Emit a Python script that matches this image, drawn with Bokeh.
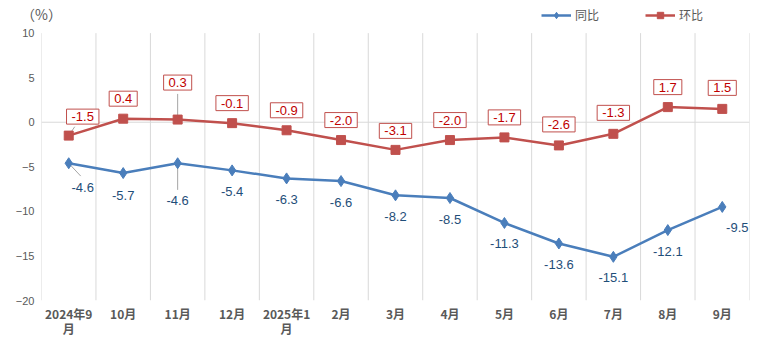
from bokeh.plotting import figure
from bokeh.models import (ColumnDataSource, FixedTicker, Legend, LegendItem, LinearAxis)
from bokeh.core.properties import value
from bokeh.embed import file_html
from bokeh.resources import INLINE

# ---- data ----
months = ["2024年9月", "10月", "11月", "12月", "2025年1月", "2月", "3月",
          "4月", "5月", "6月", "7月", "8月", "9月"]
yoy = [-4.6, -5.7, -4.6, -5.4, -6.3, -6.6, -8.2, -8.5, -11.3, -13.6, -15.1, -12.1, -9.5]
mom = [-1.5, 0.4, 0.3, -0.1, -0.9, -2.0, -3.1, -2.0, -1.7, -2.6, -1.3, 1.7, 1.5]
y_ticks = [-20, -15, -10, -5, 0, 5, 10]
series_names = ["同比", "环比"]
unit_text = "（%）"

# ---- label placement (screen px) ----
red_dx = [14, 0, 0, 0, 0, 0, 0, 0, 0, 0, 0, 0, 0]
red_up = [19, 20, 37, 20, 20, 20, 19, 20, 20, 21, 21, 20, 21]
blue_dx = [14, 0, 0, 0, 0, 0, 0, 0, 0, 0, 0, 0, 15]
blue_down = [24, 22, 37, 21, 21, 21, 21, 21, 21, 21, 21, 21, 21]

BLUE = "#4A7EBB"
RED = "#C0504D"
GRAY_TXT = "#595959"
GRID = "#D9D9D9"

W, H = 760, 339
BL, BR = 41, 11
FW = W - BL - BR
FH_EST = 300
n = len(months)
xs = list(range(n))
y_lo, y_hi_axis = y_ticks[0], y_ticks[-1]
px_x = FW / n
px_y = 9.033
y_top = y_lo + FH_EST / px_y

p = figure(width=W, height=H, output_backend="svg", toolbar_location=None, title=None,
           x_range=(-0.5, n - 0.5), y_range=(y_lo, y_top),
           min_border_left=BL, min_border_right=BR, min_border_top=0, min_border_bottom=0)
p.outline_line_color = None
p.background_fill_color = "white"
p.border_fill_color = "white"
p.xgrid.visible = False
p.ygrid.visible = False

# vertical grid at category boundaries, and the zero line
bounds = [i - 0.5 for i in range(n + 1)]
p.segment(x0=bounds, y0=[y_lo] * len(bounds), x1=bounds, y1=[y_hi_axis] * len(bounds),
          line_color=GRID, line_width=1)
p.segment(x0=[bounds[0]], y0=[0], x1=[bounds[-1]], y1=[0], line_color=GRID, line_width=1)

# x axes (two rows of labels)
first_line = [m[:-1] if len(m) > 4 else m for m in months]
wrapped = [i for i, m in enumerate(months) if len(m) > 4]
xa = p.xaxis[0]
xa.ticker = FixedTicker(ticks=xs)
xa.major_label_overrides = {i: t for i, t in enumerate(first_line)}
xa.axis_line_color = None
xa.major_tick_line_color = None
xa.minor_tick_line_color = None
xa.major_tick_out = 0
xa.major_tick_in = 0
xa.minor_tick_out = 0
xa.major_label_text_font = "Noto Sans CJK SC"
xa.major_label_text_font_style = "bold"
xa.major_label_text_font_size = "12px"
xa.major_label_text_color = GRAY_TXT
xa.major_label_standoff = 4

xa2 = LinearAxis(ticker=FixedTicker(ticks=[xs[i] for i in wrapped]),
                 major_label_overrides={xs[i]: months[i][-1] for i in wrapped},
                 axis_line_color=None, major_tick_line_color=None, minor_tick_line_color=None,
                 major_tick_out=0, major_tick_in=0, minor_tick_out=0, minor_tick_in=0,
                 major_label_standoff=-5,
                 major_label_text_font="Noto Sans CJK SC", major_label_text_font_style="bold",
                 major_label_text_font_size="12px", major_label_text_color=GRAY_TXT)
p.add_layout(xa2, "below")

# unit label as a single tick label of an axis above the frame, pulled down into the chart
ua = LinearAxis(ticker=FixedTicker(ticks=[bounds[0]]),
                major_label_overrides={bounds[0]: unit_text},
                axis_line_color=None, major_tick_line_color=None, minor_tick_line_color=None,
                major_tick_out=0, major_tick_in=0, minor_tick_out=0, minor_tick_in=0,
                major_label_standoff=-19,
                major_label_text_font="Noto Sans CJK SC",
                major_label_text_font_size="14px", major_label_text_color=GRAY_TXT)
p.add_layout(ua, "above")

ya = p.yaxis[0]
ya.ticker = FixedTicker(ticks=y_ticks)
ya.axis_line_color = None
ya.major_tick_line_color = None
ya.minor_tick_line_color = None
ya.major_tick_out = 0
ya.major_tick_in = 0
ya.minor_tick_out = 0
ya.major_label_text_font = "Liberation Sans"
ya.major_label_text_font_size = "11px"
ya.major_label_text_color = GRAY_TXT
ya.major_label_standoff = 7

src = ColumnDataSource(dict(
    x=xs, yoy=yoy, mom=mom,
    yoy_txt=[f"{v:.1f}" for v in yoy], mom_txt=[f"{v:.1f}" for v in mom],
    rdx=red_dx, rdy=[-u for u in red_up],
    bdx=blue_dx, bdy=blue_down,
))

# leader lines
lsrc = ColumnDataSource(dict(
    x0=[xs[0], xs[2], xs[0], xs[2]],
    y0=[mom[0], mom[2], yoy[0], yoy[2]],
    x1=[xs[0] + 6 / px_x, xs[2], xs[0] + 12 / px_x, xs[2]],
    y1=[mom[0] + 9 / px_y, mom[2] + 26 / px_y, yoy[0] - 13 / px_y, yoy[2] - 27 / px_y],
))
p.segment("x0", "y0", "x1", "y1", source=lsrc, line_color="#A6A6A6", line_width=1)

bl = p.line("x", "yoy", source=src, line_color=BLUE, line_width=2.5)
bs = p.scatter("x", "yoy", source=src, marker="diamond", size=11, fill_color=BLUE, line_color=BLUE)
rl = p.line("x", "mom", source=src, line_color=RED, line_width=2.5)
rs = p.scatter("x", "mom", source=src, marker="square", size=9, fill_color=RED, line_color=RED)

p.text("x", "mom", text="mom_txt", source=src, x_offset="rdx", y_offset="rdy",
       anchor="center", text_align="center", text_baseline="middle",
       text_font=value("Liberation Sans"), text_font_size="13px", text_color="#C00000",
       background_fill_color="white", border_line_color=RED, border_line_width=1,
       padding=dict(left=5, right=5, top=3, bottom=3))
p.text("x", "yoy", text="yoy_txt", source=src, x_offset="bdx", y_offset="bdy",
       anchor="center", text_align="center", text_baseline="middle",
       text_font=value("Liberation Sans"), text_font_size="13px", text_color="#1F4E79")

legend = Legend(items=[LegendItem(label=series_names[0], renderers=[bl, bs]),
                       LegendItem(label=series_names[1], renderers=[rl, rs])],
                location=(541 - BL, FH_EST - 23), orientation="horizontal",
                glyph_width=30, glyph_height=16, label_standoff=4, spacing=46,
                padding=0, margin=0, border_line_color=None, background_fill_alpha=0,
                label_text_font="Noto Sans CJK SC", label_text_font_size="12px",
                label_text_color=GRAY_TXT)
p.add_layout(legend, "center")

open("out.html", "w").write(file_html(p, INLINE))
